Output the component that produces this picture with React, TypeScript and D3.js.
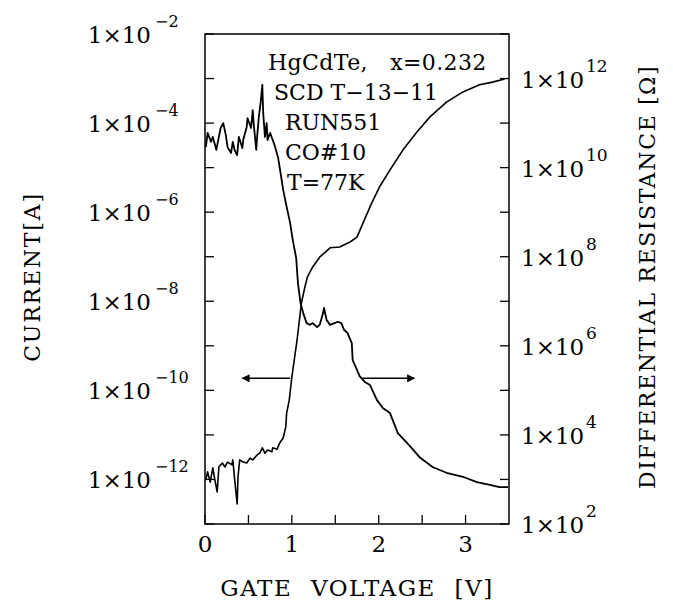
import React from 'react';
import * as d3 from 'd3';

const WIDTH = 673;
const HEIGHT = 600;
const MARGIN = { top: 34, right: 164, bottom: 76, left: 205 };

// gate voltage [V] and log10 of current [A]
const currentV = [0.01, 0.03, 0.06, 0.09, 0.11, 0.14, 0.16, 0.2, 0.23, 0.26, 0.31, 0.32, 0.34, 0.37, 0.38, 0.4, 0.44, 0.48, 0.52, 0.55, 0.6, 0.63, 0.66, 0.69, 0.72, 0.77, 0.78, 0.83, 0.86, 0.9, 0.93, 0.94, 0.97, 1.0, 1.06, 1.11, 1.15, 1.18, 1.24, 1.32, 1.44, 1.55, 1.67, 1.75, 1.82, 1.92, 2.01, 2.13, 2.28, 2.44, 2.59, 2.78, 2.97, 3.16, 3.31, 3.45];
const currentLog = [-12.01, -11.83, -12.06, -11.74, -11.97, -12.28, -11.72, -11.63, -11.72, -11.61, -11.67, -11.56, -11.97, -12.55, -11.94, -11.56, -11.61, -11.63, -11.52, -11.56, -11.45, -11.41, -11.29, -11.41, -11.34, -11.38, -11.29, -11.32, -11.18, -11.07, -10.82, -10.51, -10.22, -9.7, -8.87, -8.04, -7.68, -7.45, -7.23, -7.01, -6.8, -6.78, -6.67, -6.56, -6.24, -5.79, -5.43, -5.05, -4.6, -4.2, -3.86, -3.53, -3.3, -3.14, -3.08, -3.01];

// gate voltage [V] and log10 of differential resistance [ohm]
const resistV = [0.01, 0.03, 0.07, 0.09, 0.13, 0.16, 0.18, 0.21, 0.24, 0.26, 0.3, 0.32, 0.34, 0.37, 0.39, 0.43, 0.44, 0.48, 0.49, 0.53, 0.55, 0.56, 0.59, 0.6, 0.62, 0.64, 0.66, 0.67, 0.69, 0.71, 0.72, 0.75, 0.77, 0.8, 0.84, 0.87, 0.9, 0.94, 0.98, 1.01, 1.05, 1.07, 1.1, 1.13, 1.17, 1.21, 1.24, 1.29, 1.32, 1.36, 1.37, 1.4, 1.44, 1.49, 1.53, 1.57, 1.6, 1.64, 1.69, 1.7, 1.75, 1.78, 1.84, 1.9, 1.98, 2.05, 2.13, 2.22, 2.36, 2.47, 2.62, 2.78, 2.97, 3.13, 3.28, 3.39, 3.49];
const resistLog = [10.46, 10.78, 10.58, 10.69, 10.4, 10.69, 10.89, 11.0, 10.73, 10.46, 10.33, 10.58, 10.4, 10.28, 10.69, 10.44, 10.62, 10.91, 11.11, 10.89, 11.29, 11.0, 10.4, 10.69, 11.14, 11.45, 11.86, 11.23, 10.69, 11.0, 10.62, 10.78, 10.67, 10.51, 10.24, 9.88, 9.5, 9.12, 8.76, 8.38, 7.97, 7.41, 6.96, 6.74, 6.51, 6.47, 6.51, 6.42, 6.47, 6.74, 6.85, 6.58, 6.47, 6.51, 6.54, 6.51, 6.36, 6.29, 6.06, 5.68, 5.46, 5.32, 5.19, 5.12, 4.78, 4.6, 4.49, 4.04, 3.75, 3.5, 3.28, 3.15, 3.06, 2.94, 2.88, 2.83, 2.83];

const xTicks = [0, 0.5, 1, 1.5, 2, 2.5, 3];
const xLabels = [0, 1, 2, 3];
const leftExps = [-2, -4, -6, -8, -10, -12];
const rightExps = [12, 10, 8, 6, 4, 2];

const notes = ['HgCdTe,   x=0.232', 'SCD T\u221213\u221211', 'RUN551', 'CO#10', 'T=77K'];
const noteX = [268, 274, 285, 285, 287];

const FONT = '"DejaVu Serif", serif';

export default function App() {
  const x = d3.scaleLinear().domain([0, 3.5]).range([MARGIN.left, WIDTH - MARGIN.right]);
  const yL = d3.scaleLog().domain([1e-13, 1e-2]).range([HEIGHT - MARGIN.bottom, MARGIN.top]);
  const yR = d3.scaleLog().domain([1e2, 1e13]).range([HEIGHT - MARGIN.bottom, MARGIN.top]);

  const lineI = d3.line<number>()
    .x((_, i) => x(currentV[i]))
    .y(d => yL(Math.pow(10, d)));
  const lineR = d3.line<number>()
    .x((_, i) => x(resistV[i]))
    .y(d => yR(Math.pow(10, d)));

  const leftDecades = d3.range(-13, -1).map(e => Math.pow(10, e));
  const rightDecades = d3.range(2, 14).map(e => Math.pow(10, e));
  const x0 = x(0);
  const x1 = x(3.5);
  const yTop = MARGIN.top;
  const yBot = HEIGHT - MARGIN.bottom;
  const arrowY = yL(1e-10) - 12;
  const midY = (yTop + yBot) / 2;

  return (
    <svg width={WIDTH} height={HEIGHT} style={{ position: 'absolute', left: 0, top: 0, background: '#fff' }}
      fontFamily={FONT}>
      <defs>
        <marker id="head" viewBox="0 0 10 10" refX="9" refY="5" markerWidth="12" markerHeight="8"
          markerUnits="userSpaceOnUse" orient="auto">
          <path d="M0,0 L10,5 L0,10 z" fill="#000" />
        </marker>
      </defs>
      <rect x={x0} y={yTop} width={x1 - x0} height={yBot - yTop} fill="none" stroke="#000" strokeWidth={1.5} />

      {xTicks.map(t => (
        <line key={'xt' + t} x1={x(t)} x2={x(t)} y1={yBot} y2={yBot - 9} stroke="#000" strokeWidth={1.3} />
      ))}
      {xLabels.map(t => (
        <text key={'xl' + t} x={x(t)} y={yBot + 28} textAnchor="middle" fontSize={23}>{t}</text>
      ))}

      {leftDecades.map((d, i) => (
        <line key={'lt' + i} x1={x0} x2={x0 + 9} y1={yL(d)} y2={yL(d)} stroke="#000" strokeWidth={1.3} />
      ))}
      {rightDecades.map((d, i) => (
        <line key={'rt' + i} x1={x1} x2={x1 - 9} y1={yR(d)} y2={yR(d)} stroke="#000" strokeWidth={1.3} />
      ))}

      {leftExps.map(e => {
        const yy = yL(Math.pow(10, e)) + 9;
        return (
          <g key={'le' + e}>
            <text x={151} y={yy} textAnchor="end" fontSize={23}>1×10</text>
            <text x={155} y={yy - 16} fontSize={16}>{'\u2212' + Math.abs(e)}</text>
          </g>
        );
      })}
      {rightExps.map(e => {
        const yy = yR(Math.pow(10, e)) + 9;
        return (
          <g key={'re' + e}>
            <text x={521} y={yy} fontSize={23}>1×10</text>
            <text x={586} y={yy - 16} fontSize={17}>{e}</text>
          </g>
        );
      })}

      <path d={lineI(currentLog) || ''} fill="none" stroke="#000" strokeWidth={1.6} strokeLinejoin="round" />
      <path d={lineR(resistLog) || ''} fill="none" stroke="#000" strokeWidth={1.8} strokeLinejoin="round" />

      <line x1={x(0.98)} x2={x(0.43)} y1={arrowY} y2={arrowY} stroke="#000" strokeWidth={1.5} markerEnd="url(#head)" />
      <line x1={x(1.8)} x2={x(2.41)} y1={arrowY} y2={arrowY} stroke="#000" strokeWidth={1.5} markerEnd="url(#head)" />

      {notes.map((n, i) => (
        <text key={n} x={noteX[i]} y={70 + i * 30} fontSize={22} letterSpacing={i === 0 ? 0.4 : 0}
          xmlSpace="preserve" style={{ whiteSpace: 'pre' }}>{n}</text>
      ))}

      <text transform={`translate(40, ${midY - 2}) rotate(-90)`} textAnchor="middle" fontSize={22} letterSpacing={1.8}>CURRENT[A]</text>
      <text transform={`translate(655, ${midY - 2}) rotate(-90)`} textAnchor="middle" fontSize={22} letterSpacing={1.6}>DIFFERENTIAL RESISTANCE [Ω]</text>
      <text x={(x0 + x1) / 2} y={596} textAnchor="middle" fontSize={23} letterSpacing={1.5} wordSpacing={10}>GATE VOLTAGE [V]</text>
    </svg>
  );
}
